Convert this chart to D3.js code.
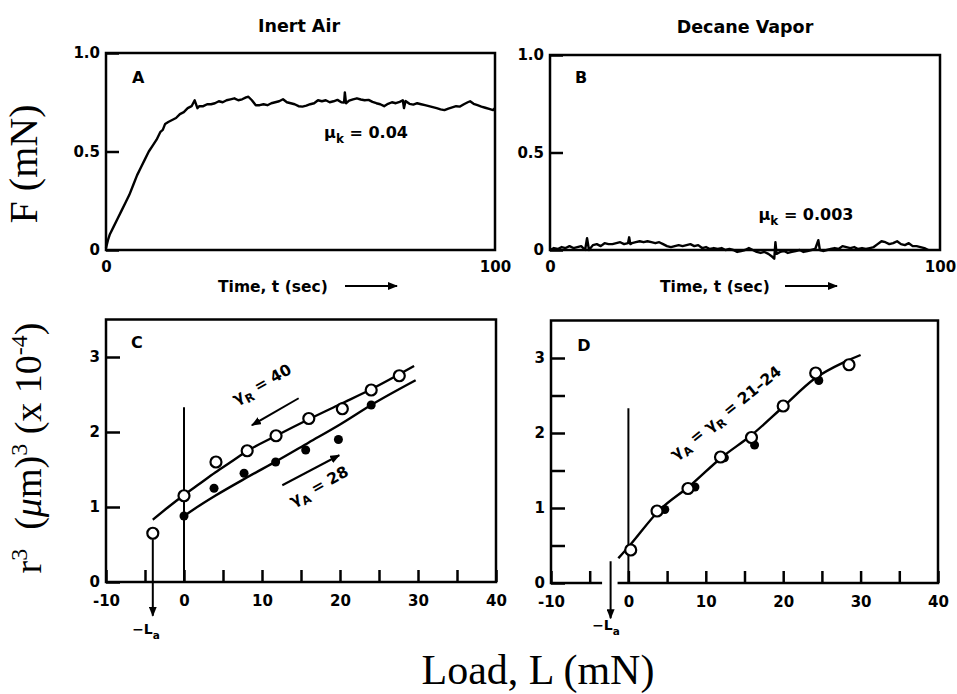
<!DOCTYPE html>
<html>
<head>
<meta charset="utf-8">
<script src="https://cdn.jsdelivr.net/npm/d3@7"></script>
<style>
  body { margin: 0; background: #fff; }
  svg text { font-family: "DejaVu Sans", sans-serif; font-weight: bold; fill: #000; }
  svg text.serif { font-family: "Liberation Serif", "Times New Roman", serif; font-weight: normal; }
  .tick text { font-size: 15px; }
  .tick line { stroke: #000; stroke-width: 2.5; }
</style>
</head>
<body>
<svg id="chart"></svg>
<script>
// SVG size
var width = 957;
var height = 694;

// Panel A: friction force vs time, inert air  [t (sec), F (mN)]
var traceA = [[0,0.01],[0.5,0.05],[1,0.08],[2,0.12],[3,0.16],[4,0.2],[5,0.24],[6,0.28],[7,0.33],[8,0.38],
  [9,0.42],[10,0.46],[11,0.5],[12,0.53],[13,0.56],[14,0.6],[14.6,0.61],[15.2,0.64],[16,0.65],[17,0.66],
  [18,0.67],[19,0.69],[20,0.7],[21,0.72],[22,0.73],[22.8,0.76],[23.5,0.72],[24,0.73],[25,0.73],[26,0.74],
  [27,0.74],[28,0.745],[29,0.755],[30,0.75],[31,0.76],[32,0.765],[33,0.77],[34,0.76],[35,0.765],[36,0.775],
  [36.6,0.778],[37.5,0.76],[38.5,0.735],[39.5,0.735],[40.5,0.74],[41.5,0.735],[42.5,0.745],[43.5,0.75],
  [44.5,0.755],[45.5,0.765],[46.5,0.75],[47.5,0.745],[48.5,0.74],[49.5,0.73],[50.5,0.728],[51.5,0.733],
  [52.5,0.74],[53.5,0.745],[54.5,0.76],[55.5,0.755],[56.5,0.76],[57.5,0.75],[58.5,0.755],[59.5,0.762],
  [60.5,0.75],[61.2,0.748],[61.4,0.8],[61.7,0.745],[62.5,0.758],[63.5,0.765],[64.5,0.77],[65.5,0.764],
  [66.5,0.76],[67.5,0.762],[68.5,0.752],[69.5,0.745],[70.5,0.74],[71.5,0.73],[72.5,0.742],[73.5,0.75],
  [74.5,0.745],[75.5,0.752],[76.3,0.76],[76.6,0.72],[77,0.756],[78,0.742],[79,0.738],[80,0.745],[81,0.74],
  [82,0.735],[83,0.73],[84,0.725],[85,0.72],[86,0.714],[87,0.71],[88,0.718],[89,0.724],[90,0.73],[91,0.728],
  [92,0.74],[93,0.75],[93.6,0.755],[94.5,0.742],[95.5,0.735],[96.5,0.728],[97.5,0.722],[98.5,0.716],
  [99.5,0.71],[100,0.72]];

// Panel B: friction force vs time, decane vapor  [t (sec), F (mN)]
var traceB = [[0,0],[1,0.01],[2,0.005],[3,0.015],[4,0.01],[5,0.02],[6,0.01],[7,0.015],[8,0.02],[9,0],
  [9.5,0.06],[10,0],[11,0.025],[12,0.03],[13,0.02],[14,0.035],[15,0.03],[16,0.03],[17,0.035],[18,0.04],
  [19,0.03],[20,0.035],[20.3,0.065],[20.6,0.03],[21,0.035],[22,0.04],[23,0.045],[24,0.04],[25,0.045],
  [26,0.04],[27,0.035],[28,0.04],[29,0.03],[30,0.02],[31,0.015],[32,0.02],[33,0.025],[34,0.02],[35,0.025],
  [36,0.03],[37,0.02],[38,0.025],[39,0.01],[40,0.015],[41,0.005],[42,0.01],[43,0.005],[44,0.01],[45,0],
  [46,0.005],[47,0],[48,-0.01],[49,-0.005],[50,0],[51,0.01],[52,0],[53,-0.01],[54,-0.015],[55,-0.01],
  [56,-0.02],[57,-0.035],[57.5,-0.045],[57.8,0.04],[58.1,-0.02],[59,-0.01],[60,-0.005],[61,-0.015],
  [62,-0.01],[63,-0.005],[64,0],[65,-0.01],[66,-0.005],[67,0],[68,0.005],[68.8,0.05],[69.2,0],[70,-0.005],
  [71,0],[72,0.005],[73,0.01],[74,0.005],[75,0.02],[76,0.015],[77,0.01],[78,0.015],[79,0.005],[80,0.01],
  [81,0.005],[82,0.01],[83,0.015],[84,0.03],[85,0.045],[86,0.04],[87,0.03],[88,0.035],[89,0.045],[90,0.03],
  [91,0.025],[92,0.035],[93,0.02],[94,0.02],[95,0.015],[96,0.01],[97,0]];

// Panel C: contact radius cubed vs load, inert air
var loadRecC = [-4, 0, 4.1, 8.1, 11.8, 16, 20.3, 24, 27.6];
var r3RecC   = [0.65, 1.15, 1.6, 1.75, 1.95, 2.18, 2.31, 2.56, 2.75];
var loadAdvC = [0, 3.85, 7.7, 11.75, 15.6, 19.8, 24];
var r3AdvC   = [0.88, 1.25, 1.45, 1.6, 1.76, 1.9, 2.36];
var fitLoadRecC = [-4, -2, 0, 2, 4, 6, 8, 12, 16, 20, 24, 29.5];
var fitRecC     = [0.83, 1.0, 1.16, 1.31, 1.46, 1.6, 1.74, 1.96, 2.17, 2.37, 2.57, 2.88];
var fitLoadAdvC = [0, 2, 4, 8, 12, 16, 20, 24, 29.7];
var fitAdvC     = [0.88, 1.02, 1.15, 1.39, 1.62, 1.86, 2.1, 2.36, 2.69];

// Panel D: contact radius cubed vs load, decane vapor
var loadOpenD = [0.3, 3.7, 7.7, 11.9, 15.9, 20, 24.2, 28.5];
var r3OpenD   = [0.44, 0.96, 1.26, 1.68, 1.94, 2.36, 2.8, 2.91];
var loadFillD = [4.7, 8.6, 12.4, 16.3, 24.6];
var r3FillD   = [0.98, 1.28, 1.67, 1.84, 2.7];
var fitLoadD = [-1.3, 0, 4, 8, 12, 16, 20, 24, 28, 30];
var fitD     = [0.33, 0.48, 0.97, 1.3, 1.67, 1.98, 2.35, 2.72, 2.95, 3.04];

// Tick labels
var timeTicks = [0, 100];
var forceTicks = [0, 0.5, 1.0];
var loadTicks = [-10, -5, 0, 5, 10, 15, 20, 25, 30, 35, 40];
var r3TicksC = [0, 1, 2, 3];
var r3TicksD = [0, 0.5, 1, 1.5, 2, 2.5, 3];

// Scales, one pair per panel
var xA = d3.scaleLinear().domain([0, 100]).range([106, 495]);
var yA = d3.scaleLinear().domain([0, 1]).range([250, 53]);
var xB = d3.scaleLinear().domain([0, 100]).range([550, 940]);
var yB = d3.scaleLinear().domain([0, 1]).range([250, 55]);
var xC = d3.scaleLinear().domain([-10, 40]).range([106, 496]);
var yC = d3.scaleLinear().domain([0, 3.5]).range([582, 319.5]);
var xD = d3.scaleLinear().domain([-10, 40]).range([551, 938]);
var yD = d3.scaleLinear().domain([0, 3.5]).range([583, 320.5]);

var svg = d3.select("#chart")
    .attr("width", width)
    .attr("height", height);

// Arrow head
svg.append("defs").append("marker")
    .attr("id", "arrow")
    .attr("viewBox", "0 0 10 8")
    .attr("refX", 9).attr("refY", 4)
    .attr("markerWidth", 10).attr("markerHeight", 8)
    .attr("markerUnits", "userSpaceOnUse")
    .attr("orient", "auto")
  .append("path")
    .attr("d", "M0,0L10,4L0,8Z");

function frame(x, y) {
  svg.append("rect")
      .attr("x", x.range()[0])
      .attr("y", y.range()[1])
      .attr("width", x.range()[1] - x.range()[0])
      .attr("height", y.range()[0] - y.range()[1])
      .attr("fill", "none")
      .attr("stroke", "#000")
      .attr("stroke-width", 2.5);
}

function axes(x, y, xTicks, yTicks, xLen, yLen, xPad, xFmt, yFmt) {
  svg.append("g")
      .attr("transform", "translate(" + x.range()[0] + ",0)")
      .call(d3.axisLeft(y).tickValues(yTicks).tickSize(-yLen).tickPadding(6).tickFormat(yFmt))
      .call(g => g.select(".domain").remove());
  svg.append("g")
      .attr("transform", "translate(0," + y.range()[0] + ")")
      .call(d3.axisBottom(x).tickValues(xTicks).tickSize(-xLen).tickPadding(xPad).tickFormat(xFmt))
      .call(g => g.select(".domain").remove());
}

function trace(data, x, y) {
  svg.append("path")
      .datum(data)
      .attr("fill", "none")
      .attr("stroke", "#000")
      .attr("stroke-width", 2.4)
      .attr("stroke-linejoin", "round")
      .attr("d", d3.line().x(d => x(d[0])).y(d => y(d[1])));
}

function curve(xs, ys, x, y) {
  svg.append("path")
      .datum(d3.zip(xs, ys))
      .attr("fill", "none")
      .attr("stroke", "#000")
      .attr("stroke-width", 2.4)
      .attr("d", d3.line().curve(d3.curveMonotoneX).x(d => x(d[0])).y(d => y(d[1])));
}

function dots(xs, ys, x, y, open) {
  svg.append("g").selectAll("circle")
      .data(d3.zip(xs, ys))
    .enter().append("circle")
      .attr("cx", d => x(d[0]))
      .attr("cy", d => y(d[1]))
      .attr("r", open ? 5.5 : 4.5)
      .attr("fill", open ? "#fff" : "#000")
      .attr("stroke", "#000")
      .attr("stroke-width", open ? 2.2 : 0);
}

function arrow(x1, y1, x2, y2, w) {
  svg.append("line")
      .attr("x1", x1).attr("y1", y1)
      .attr("x2", x2).attr("y2", y2)
      .attr("stroke", "#000")
      .attr("stroke-width", w || 2)
      .attr("marker-end", "url(#arrow)");
}

function label(txt, x, y, size) {
  return svg.append("text")
      .attr("x", x).attr("y", y)
      .style("font-size", size + "px")
      .text(txt);
}

// labels with subscripts (mu_k, gamma_R, -L_a)
function subLabel(parts, x, y, size, angle) {
  var t = svg.append("text")
      .attr("transform", "translate(" + x + "," + y + ") rotate(" + angle + ")")
      .attr("text-anchor", "middle")
      .style("font-size", size + "px")
      .style("white-space", "pre");
  parts.forEach(function(p) {
    t.append("tspan")
        .attr("dy", p.sub ? 5 : (p.back ? -5 : 0))
        .style("font-size", p.sub ? (size * 0.75) + "px" : null)
        .text(p.t);
  });
  return t;
}

var fmt1 = d => d === 0 ? "0" : d3.format(".1f")(d);
var fmtInt = d => d;
var fmtTen = d => d % 10 === 0 ? d : "";
var fmtUnit = d => d % 1 === 0 ? d : "";

// ---- Panel A ----
frame(xA, yA);
axes(xA, yA, timeTicks, forceTicks, 0, 13, 11, fmtInt, fmt1);
trace(traceA, xA, yA);

// ---- Panel B ----
frame(xB, yB);
axes(xB, yB, timeTicks, forceTicks, 0, 13, 11, fmtInt, fmt1);
trace(traceB, xB, yB);

// ---- Panel C ----
svg.append("line")
    .attr("x1", xC(0)).attr("x2", xC(0))
    .attr("y1", yC(2.33)).attr("y2", yC(0))
    .attr("stroke", "#000").attr("stroke-width", 2);
frame(xC, yC);
axes(xC, yC, loadTicks, r3TicksC, 12, 14, 13, fmtTen, fmtInt);
curve(fitLoadRecC, fitRecC, xC, yC);
curve(fitLoadAdvC, fitAdvC, xC, yC);
dots(loadAdvC, r3AdvC, xC, yC, false);
dots(loadRecC, r3RecC, xC, yC, true);
arrow(xC(-4), yC(0.65) + 6, xC(-4), yC(-0.45), 2);
arrow(xC(14.7), yC(2.45), xC(8.7), yC(2.09), 2);
arrow(xC(12.6), yC(1.29), xC(19.9), yC(1.69), 2);

// ---- Panel D ----
svg.append("line")
    .attr("x1", xD(0)).attr("x2", xD(0))
    .attr("y1", yD(2.33)).attr("y2", yD(0))
    .attr("stroke", "#000").attr("stroke-width", 2);
frame(xD, yD);
axes(xD, yD, loadTicks, r3TicksD, 12, 14, 13, fmtTen, fmtUnit);
svg.append("rect")
    .attr("x", xD(-3.4)).attr("y", yD(0) - 3)
    .attr("width", xD(-1.4) - xD(-3.4)).attr("height", 6)
    .attr("fill", "#fff");
curve(fitLoadD, fitD, xD, yD);
dots(loadFillD, r3FillD, xD, yD, false);
dots(loadOpenD, r3OpenD, xD, yD, true);
arrow(xD(-2.3), yD(0.29), xD(-2.3), yD(-0.47), 2);

// ---- Titles and annotations ----
label("Inert Air", 299, 32, 17.5).attr("text-anchor", "middle");
label("Decane Vapor", 745, 33, 17.5).attr("text-anchor", "middle");

label("A", xA(6.7), yA(0.85), 16);
label("B", xB(6.4), yB(0.856), 16);
label("C", xC(-6.8), yC(3.12), 16);
label("D", xD(-6.6), yD(3.1), 16);

label("Time, t (sec)", 218, 292, 15.5);
arrow(345, 286, 397, 286, 1.8);
label("Time, t (sec)", 660, 292, 15.5);
arrow(785, 286, 837, 286, 1.8);

subLabel([{t: "\u03bc"}, {t: "k", sub: true}, {t: " = 0.04", back: true}], 366, 138, 16, 0);
subLabel([{t: "\u03bc"}, {t: "k", sub: true}, {t: " = 0.003", back: true}], 806, 220, 16, 0);

subLabel([{t: "\u03b3"}, {t: "R", sub: true}, {t: " = 40", back: true}], xC(10.3), yC(2.58), 15.5, -29);
subLabel([{t: "\u03b3"}, {t: "A", sub: true}, {t: " = 28", back: true}], xC(17.6), yC(1.22), 15.5, -29);
subLabel([{t: "\u03b3"}, {t: "A", sub: true}, {t: " = \u03b3", back: true}, {t: "R", sub: true}, {t: " = 21\u201324", back: true}],
    xD(13.0), yD(2.22), 15.5, -39);

subLabel([{t: "\u2212L"}, {t: "a", sub: true}], 146, 634, 14, 0);
subLabel([{t: "\u2212L"}, {t: "a", sub: true}], 606, 630, 14, 0);

// Axis titles (serif)
svg.append("text")
    .attr("class", "serif")
    .attr("transform", "translate(37,164) rotate(-90)")
    .attr("text-anchor", "middle")
    .style("font-size", "40px")
    .style("white-space", "pre")
    .text("F (mN)");

var rLabel = svg.append("text")
    .attr("class", "serif")
    .attr("transform", "translate(41,448) rotate(-90)")
    .attr("text-anchor", "middle")
    .style("font-size", "38px")
    .style("white-space", "pre");
rLabel.append("tspan").text("r");
rLabel.append("tspan").attr("dy", -14).style("font-size", "24px").text("3");
rLabel.append("tspan").attr("dy", 14).text("  (");
rLabel.append("tspan").style("font-style", "italic").text("\u03bc");
rLabel.append("tspan").text("m)");
rLabel.append("tspan").attr("dy", -14).style("font-size", "24px").text("3");
rLabel.append("tspan").attr("dy", 14).text(" (x 10");
rLabel.append("tspan").attr("dy", -14).style("font-size", "24px").text("-4");
rLabel.append("tspan").attr("dy", 14).text(")");

svg.append("text")
    .attr("class", "serif")
    .attr("x", 538).attr("y", 684)
    .attr("text-anchor", "middle")
    .style("font-size", "42px")
    .text("Load, L (mN)");
</script>
</body>
</html>
